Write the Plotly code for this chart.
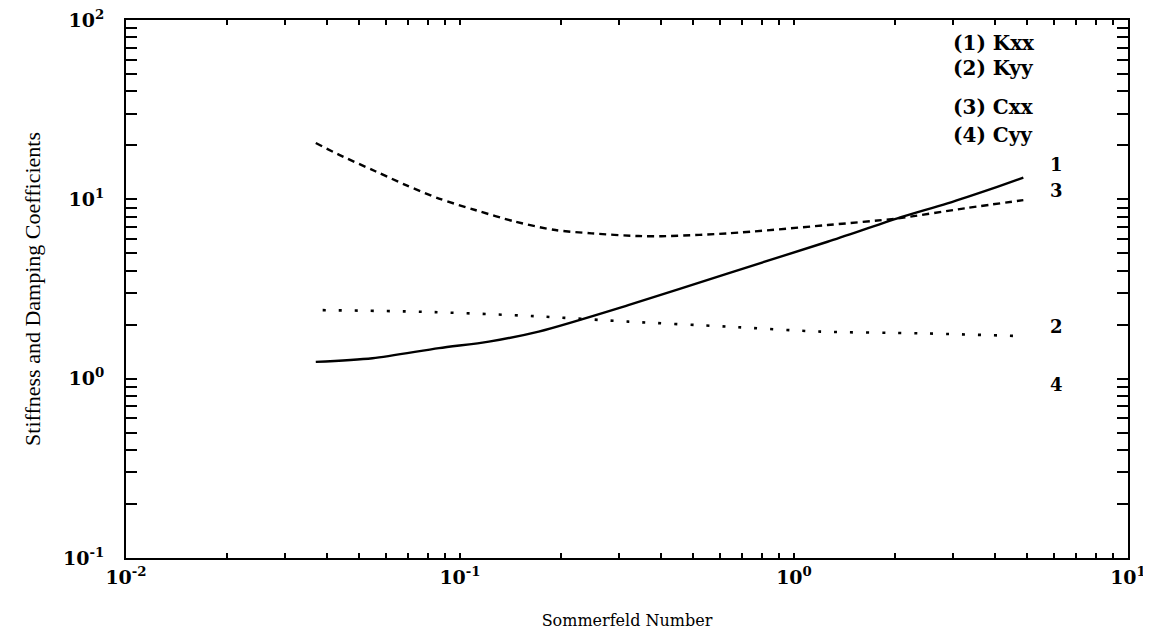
import plotly.graph_objects as go

# ---- data ----
kxx_x = [0.037, 0.0547, 0.0865, 0.122, 0.172, 0.319, 0.635, 1.26, 2.04, 2.88, 4.06, 4.86]
kxx_y = [1.24, 1.30, 1.48, 1.61, 1.83, 2.57, 3.87, 5.8, 7.83, 9.5, 11.75, 13.2]

kyy_x = [0.0388, 0.0772, 0.168, 0.319, 0.635, 1.20, 2.39, 4.67]
kyy_y = [2.41, 2.36, 2.23, 2.08, 1.95, 1.83, 1.79, 1.73]

cxx_x = [0.037, 0.0435, 0.056, 0.0689, 0.0865, 0.111, 0.1466, 0.193, 0.248, 0.342,
         0.401, 0.635, 1.26, 2.04, 3.24, 4.86]
cxx_y = [20.6, 17.7, 14.3, 12.0, 10.1, 8.72, 7.50, 6.74, 6.46, 6.24,
         6.23, 6.46, 7.19, 7.83, 8.91, 9.9]

legend_lines = ["(1) Kxx", "(2) Kyy", "(3) Cxx", "(4) Cyy"]
curve_labels = ["1", "3", "2", "4"]

x_tickvals = [0.01, 0.1, 1, 10]
x_ticktext = ["10<sup>-2</sup>", "10<sup>-1</sup>", "10<sup>0</sup>", "10<sup>1</sup>"]
y_tickvals = [0.1, 1, 10, 100]
y_ticktext = ["10<sup>-1</sup>", "10<sup>0</sup>", "10<sup>1</sup>", "10<sup>2</sup>"]

x_title = "Sommerfeld Number"
y_title = "Stiffness and Damping Coefficients"

# ---- figure ----
fig = go.Figure()
fig.add_trace(go.Scatter(x=kxx_x, y=kxx_y, mode="lines", name="Kxx",
                         line=dict(color="black", width=2.4, shape="spline", smoothing=0.8)))
fig.add_trace(go.Scatter(x=cxx_x, y=cxx_y, mode="lines", name="Cxx",
                         line=dict(color="black", width=2.4, shape="spline", smoothing=0.8,
                                   dash="7px,5px")))
fig.add_trace(go.Scatter(x=kyy_x, y=kyy_y, mode="lines", name="Kyy",
                         line=dict(color="black", width=2.6, shape="spline", smoothing=0.8,
                                   dash="3px,13px")))

tick_font = dict(family="DejaVu Serif", size=19, color="black", weight="bold")

fig.update_xaxes(
    type="log", range=[-2, 1], automargin=False, ticklabeloverflow="allow",
    tickmode="array", tickvals=x_tickvals, ticktext=x_ticktext,
    ticks="inside", ticklen=5, tickwidth=1.5, tickcolor="black",
    minor=dict(ticks="inside", ticklen=5, tickwidth=1.5, tickcolor="black", dtick="D1", showgrid=False),
    showline=True, linecolor="black", linewidth=2, mirror="ticks",
    showgrid=False, zeroline=False,
    tickfont=tick_font, ticklabelstandoff=1,
    title=dict(text=x_title, font=dict(family="DejaVu Serif", size=16, color="black"), standoff=28),
)
fig.update_yaxes(
    type="log", range=[-1, 2], automargin=False, ticklabeloverflow="allow",
    tickmode="array", tickvals=y_tickvals, ticktext=y_ticktext,
    ticks="inside", ticklen=11, tickwidth=1.5, tickcolor="black",
    minor=dict(ticks="inside", ticklen=11, tickwidth=1.5, tickcolor="black", dtick="D1", showgrid=False),
    showline=True, linecolor="black", linewidth=2, mirror="ticks",
    showgrid=False, zeroline=False,
    tickfont=tick_font, ticklabelstandoff=16,
    title=dict(text=y_title, font=dict(family="Liberation Serif", size=22, color="black"), standoff=16),
)

annotations = []
legend_y = [0.957, 0.911, 0.838, 0.786]
for txt, yy in zip(legend_lines, legend_y):
    annotations.append(dict(xref="paper", yref="paper", x=0.8234, y=yy, text=txt,
                            showarrow=False, xanchor="left", yanchor="middle",
                            font=dict(family="DejaVu Serif", size=20, color="black", weight="bold")))
label_y = [0.7305, 0.684, 0.43, 0.3216]
for txt, yy in zip(curve_labels, label_y):
    annotations.append(dict(xref="paper", yref="paper", x=0.929, y=yy, text=txt,
                            showarrow=False, xanchor="center", yanchor="middle",
                            font=dict(family="DejaVu Serif", size=18, color="black", weight="bold")))

fig.update_layout(
    width=1151, height=637,
    margin=dict(l=118, r=31, t=12, b=87),
    paper_bgcolor="white", plot_bgcolor="white",
    showlegend=False,
    annotations=annotations,
)

fig.write_html("out.html")
